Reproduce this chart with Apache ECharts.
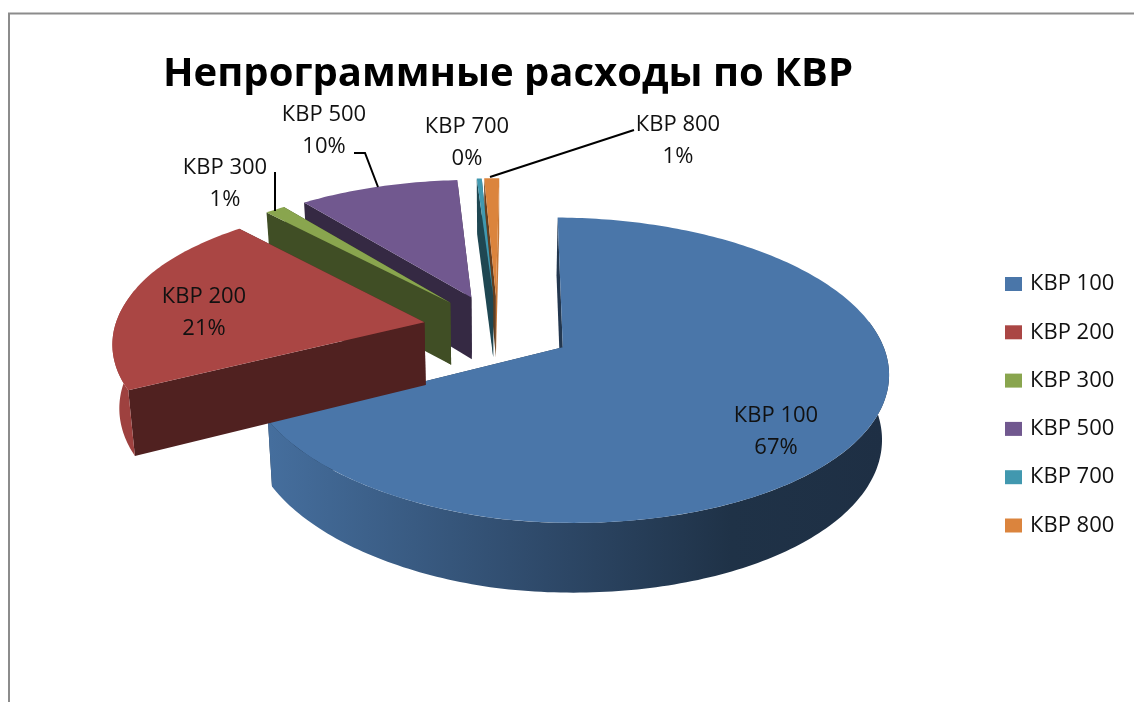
<!DOCTYPE html>
<html>
<head>
<meta charset="utf-8">
<style>html,body{margin:0;padding:0;background:#fff}#chart{width:1134px;height:702px}</style>
<script src="https://cdn.jsdelivr.net/npm/echarts@6/dist/echarts.min.js"></script>
</head>
<body>
<div id="chart"></div>
<script>
var categories = ['КВР 100', 'КВР 200', 'КВР 300', 'КВР 500', 'КВР 700', 'КВР 800'];
var shares = [67.0, 21.0, 1.2, 9.6, 0.3, 0.9];
var colors = ['#4a76a9', '#aa4644', '#89a54e', '#71588f', '#4198af', '#db843d'];

// where each label sits and its leader line, same order as categories
var labelAt = [[776, 432], [204, 313], [225, 184], [324, 131], [467, 143], [678, 141]];
var leaders = [null, null, [[275, 172], [275, 211]], [[354, 153], [365, 153], [378, 187]], null, [[634, 130], [490, 177]]];
// back to front
var drawOrder = [5, 6, 4, 3, 2, 1];

// fake 3d view of the pie
var cx = 497, cy = 329, rx = 315, ry = 143.8;
var persp = 0.1475, explode = 0.24, startAngle = 0.7;
var font = '"Open Sans"';

function project(X, Y, low) {
  var s = 1 / (1 + persp * Y);
  var k = low ? 0.982 : 1;
  // the front left of the original is drawn a little tighter and higher
  var f = X < 0 ? Math.min(1, Math.max(0, (0.7 - Y) / 0.5)) : 0;
  k *= 1 - 0.02 * f;
  return [cx + rx * X * s * k, cy - ry * Y * s + 4 * X * s * f + (low ? 63 - 6 * Y : 0)];
}

function shade(hex, f) {
  var n = parseInt(hex.slice(1), 16);
  var r = Math.round((n >> 16) * f), g = Math.round(((n >> 8) & 255) * f), b = Math.round((n & 255) * f);
  return 'rgb(' + r + ',' + g + ',' + b + ')';
}

var total = shares.reduce(function (a, b) { return a + b; }, 0);

function sliceAngles(i) {
  var before = 0;
  for (var j = 0; j < i; j++) before += shares[j];
  var a0 = startAngle + before / total * 360;
  return [a0, a0 + shares[i] / total * 360];
}

function arc(from, to, ox, oy, low) {
  var pts = [];
  var steps = Math.max(2, Math.ceil(to - from));
  for (var n = 0; n <= steps; n++) {
    var t = (from + (to - from) * n / steps) * Math.PI / 180;
    pts.push(project(ox + Math.sin(t), oy + Math.cos(t), low));
  }
  return pts;
}

function renderSlice(params, api) {
  var i = params.seriesIndex;
  var base = colors[i];
  var ang = sliceAngles(i);
  var mid = (ang[0] + ang[1]) / 2 * Math.PI / 180;
  var ox = explode * Math.sin(mid), oy = explode * Math.cos(mid);
  var arcTop = arc(ang[0], ang[1], ox, oy, false);
  var arcLow = arc(ang[0], ang[1], ox, oy, true);
  var last = arcTop.length - 1;
  var apex = project(ox, oy, false), apexLow = project(ox, oy, true);
  var faceColor = shade(base, 0.47);
  // the last slice's closing face catches the light in the original
  var endFace = i === categories.length - 1 ? shade(base, 0.9) : faceColor;
  var children = [
    { type: 'polygon', shape: { points: [apex, arcTop[last], arcLow[last], apexLow] }, style: { fill: endFace } },
    { type: 'polygon', shape: { points: [apex, arcTop[0], arcLow[0], apexLow] }, style: { fill: faceColor } }
  ];
  // only the part of the rim that faces the viewer
  var rimFrom = Math.max(ang[0], 80), rimTo = Math.min(ang[1], 282);
  if (rimTo > rimFrom) {
    children.push({
      type: 'polygon',
      shape: { points: arc(rimFrom, rimTo, ox, oy, false).concat(arc(rimFrom, rimTo, ox, oy, true).reverse()) },
      style: {
        fill: new echarts.graphic.LinearGradient(270, 0, 885, 0, [
          { offset: 0, color: shade(base, 0.93) },
          { offset: 0.45, color: shade(base, 0.62) },
          { offset: 0.75, color: shade(base, 0.42) },
          { offset: 1, color: shade(base, 0.4) }
        ], true)
      }
    });
  }
  children.push({ type: 'polygon', shape: { points: [apex].concat(arcTop) }, style: { fill: base } });
  if (leaders[i]) {
    children.push({ type: 'polyline', shape: { points: leaders[i] }, style: { stroke: '#000', lineWidth: 2, fill: null } });
  }
  children.push({
    type: 'text',
    style: {
      x: labelAt[i][0], y: labelAt[i][1],
      text: categories[i] + '\n' + Math.round(api.value(0) / total * 100) + '%',
      fill: '#111', fontFamily: font, fontSize: 22, lineHeight: 32,
      textAlign: 'center', textVerticalAlign: 'middle'
    }
  });
  return { type: 'group', children: children };
}

var chart = echarts.init(document.getElementById('chart'));
chart.setOption({
  animation: false,
  backgroundColor: '#fff',
  title: {
    text: 'Непрограммные расходы по КВР',
    left: 158, top: 50,
    textStyle: { fontFamily: font, fontSize: 40, fontWeight: 'bold', color: '#000' }
  },
  legend: {
    data: categories,
    orient: 'vertical',
    left: 1000, top: 265,
    icon: 'rect',
    itemWidth: 17, itemHeight: 14, itemGap: 20.3,
    selectedMode: false,
    textStyle: { fontFamily: font, fontSize: 22, color: '#111', lineHeight: 28, padding: [0, 0, 0, 3] }
  },
  graphic: [{
    type: 'polyline',
    shape: { points: [[9, 702], [9, 13.5], [1134, 13.5]] },
    style: { stroke: '#8c8c8c', lineWidth: 2, fill: null }
  }],
  series: categories.map(function (name, i) {
    return {
      type: 'custom',
      name: name,
      coordinateSystem: 'none',
      z: drawOrder[i],
      silent: true,
      itemStyle: { color: colors[i] },
      data: [[shares[i]]],
      renderItem: renderSlice
    };
  })
});
</script>
</body>
</html>
